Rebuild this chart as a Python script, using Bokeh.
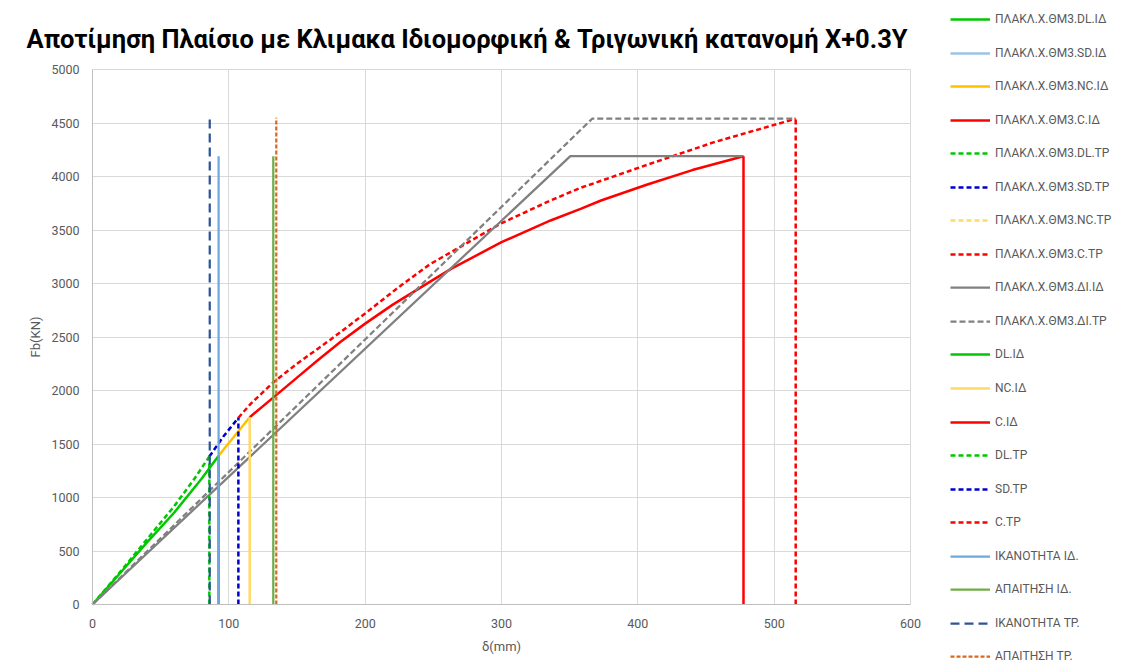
from bokeh.plotting import figure
from bokeh.models import Legend, LegendItem, FixedTicker, Label, BoxAnnotation, Grid
from bokeh.embed import file_html
from bokeh.resources import INLINE

# ---------------- data ----------------
# Modal (ΙΔ) capacity curve, split by performance level
dl_id_x = [0, 20, 40, 60, 80, 92.5]
dl_id_y = [0, 290, 580, 860, 1175, 1390]
sd_id_x = [92.5]
sd_id_y = [1390]
nc_id_x = [92.5, 115.3]
nc_id_y = [1390, 1750]
c_id_x = [115.3, 133, 150, 165, 182, 200, 220, 248, 263, 300, 336, 358, 373, 407, 440, 477.5]
c_id_y = [1750, 1938, 2120, 2280, 2455, 2625, 2800, 3020, 3137, 3386, 3589, 3698, 3776, 3925, 4060, 4190]

# Triangular (ΤΡ) capacity curve
dl_tp_x = [0, 20, 40, 60, 75, 85.7]
dl_tp_y = [0, 300, 610, 920, 1180, 1383]
sd_tp_x = [85.7, 96, 107]
sd_tp_y = [1383, 1570, 1745]
nc_tp_x = [107]
nc_tp_y = [1745]
c_tp_x = [107, 116, 133, 150, 175, 200, 224, 248, 263, 299, 336, 358, 373, 407, 456, 515.8]
c_tp_y = [1745, 1875, 2080, 2250, 2480, 2720, 2960, 3184, 3293, 3557, 3776, 3894, 3960, 4110, 4321, 4540]

# Bilinear idealisations
di_id_x = [0, 350.5, 477.5]
di_id_y = [0, 4190, 4190]
di_tp_x = [0, 366.5, 515.8]
di_tp_y = [0, 4540, 4540]

# Vertical marker lines (x position, top value)
v_dl_id = (92.5, 1390)
v_nc_id = (115.3, 1750)
v_c_id = (477.5, 4190)
v_dl_tp = (85.7, 1383)
v_sd_tp = (107, 1745)
v_c_tp = (515.8, 4540)
v_cap_id = (92.5, 4190)
v_dem_id = (132.6, 4190)
v_cap_tp = (86, 4550)
v_dem_tp = (134.8, 4550)

x_ticks = [0, 100, 200, 300, 400, 500, 600]
y_ticks = [0, 500, 1000, 1500, 2000, 2500, 3000, 3500, 4000, 4500, 5000]
x_lim = (0, 600)
y_lim = (0, 5000)

title_text = "Αποτίμηση Πλαίσιο με Κλιμακα Ιδιομορφική & Τριγωνική κατανομή X+0.3Y"

# ---------------- geometry (pixels) ----------------
W, H = 1118, 664
PX_L, PX_R = 92, 910          # plot area left / right
PX_T, PX_B = 69, 604          # plot area top / bottom
sx = (PX_R - PX_L) / (x_lim[1] - x_lim[0])
sy = (PX_B - PX_T) / (y_lim[1] - y_lim[0])
x_range = (x_lim[0] - PX_L / sx, x_lim[1] + (W - PX_R) / sx)
y_range = (y_lim[0] - (H - PX_B) / sy, y_lim[1] + PX_T / sy)

FONT = "Roboto"
GRAY_TXT = "#595959"

p = figure(frame_width=W, frame_height=H, x_range=x_range, y_range=y_range,
           output_backend="svg", toolbar_location=None,
           min_border=0, min_border_left=0, min_border_right=0,
           min_border_top=0, min_border_bottom=0)
p.outline_line_color = None
p.background_fill_color = "white"
p.border_fill_color = "white"

p.xaxis.fixed_location = 0
p.yaxis.fixed_location = 0
p.xaxis.bounds = x_lim
p.yaxis.bounds = y_lim
p.xaxis.ticker = FixedTicker(ticks=x_ticks)
p.yaxis.ticker = FixedTicker(ticks=y_ticks)
for ax in (p.xaxis[0], p.yaxis[0]):
    ax.axis_line_color = "#BFBFBF"
    ax.axis_line_width = 1
    ax.major_tick_line_color = None
    ax.minor_tick_line_color = None
    ax.major_label_text_font = FONT
    ax.major_label_text_font_size = "12.5px"
    ax.major_label_text_color = GRAY_TXT
    ax.axis_label_text_font = FONT
    ax.axis_label_text_font_size = "13px"
    ax.axis_label_text_color = GRAY_TXT
    ax.axis_label_text_font_style = "normal"
p.xaxis.axis_label = "δ(mm)"
p.yaxis.axis_label = "Fb(KN)"
p.xaxis.major_label_standoff = 8
p.yaxis.major_label_standoff = 7
p.xaxis.axis_label_standoff = 8
p.yaxis.axis_label_standoff = 5

p.xgrid.ticker = FixedTicker(ticks=x_ticks)
p.ygrid.ticker = FixedTicker(ticks=y_ticks)
p.grid.grid_line_color = "#D9D9D9"
p.grid.grid_line_width = 1
if "cross_bounds" in Grid.properties():
    p.xgrid.cross_bounds = y_lim
    p.ygrid.cross_bounds = x_lim
else:
    for kw in (dict(bottom=y_lim[1]), dict(top=y_lim[0]),
               dict(left=x_lim[1] + 0.8), dict(right=x_lim[0])):
        p.add_layout(BoxAnnotation(fill_color="white", fill_alpha=1, line_color=None,
                                   level="underlay", **kw))

LW = 2.5
DASH = "5 3"
entries = []

def add(name, xs, ys, color, dash="solid", width=LW):
    r = p.line(xs, ys, line_color=color, line_width=width, line_dash=dash)
    entries.append((name, r))

def vline(name, v, color, dash="solid", width=LW):
    add(name, [v[0], v[0]], [0, v[1]], color, dash, width)

GREEN = "#00C800"
add("ΠΛΑΚΛ.Χ.ΘΜ3.DL.ΙΔ", dl_id_x, dl_id_y, GREEN)
add("ΠΛΑΚΛ.Χ.ΘΜ3.SD.ΙΔ", sd_id_x, sd_id_y, "#9DC3E6")
add("ΠΛΑΚΛ.Χ.ΘΜ3.NC.ΙΔ", nc_id_x, nc_id_y, "#FFC000")
add("ΠΛΑΚΛ.Χ.ΘΜ3.C.ΙΔ", c_id_x, c_id_y, "#FF0000")
add("ΠΛΑΚΛ.Χ.ΘΜ3.DL.ΤΡ", dl_tp_x, dl_tp_y, GREEN, DASH)
add("ΠΛΑΚΛ.Χ.ΘΜ3.SD.ΤΡ", sd_tp_x, sd_tp_y, "#0000CC", DASH)
add("ΠΛΑΚΛ.Χ.ΘΜ3.NC.ΤΡ", nc_tp_x, nc_tp_y, "#FFD966", DASH)
add("ΠΛΑΚΛ.Χ.ΘΜ3.C.ΤΡ", c_tp_x, c_tp_y, "#FF0000", DASH)
add("ΠΛΑΚΛ.Χ.ΘΜ3.ΔΙ.ΙΔ", di_id_x, di_id_y, "#808080", "solid", 2.25)
add("ΠΛΑΚΛ.Χ.ΘΜ3.ΔΙ.ΤΡ", di_tp_x, di_tp_y, "#808080", "6 3", 2.25)
vline("DL.ΙΔ", v_dl_id, GREEN)
vline("NC.ΙΔ", v_nc_id, "#FFD966")
vline("C.ΙΔ", v_c_id, "#FF0000")
vline("DL.ΤΡ", v_dl_tp, GREEN, DASH)
vline("SD.ΤΡ", v_sd_tp, "#0000CC", DASH)
vline("C.ΤΡ", v_c_tp, "#FF0000", DASH)
vline("ΙΚΑΝΟΤΗΤΑ ΙΔ.", v_cap_id, "#6FA8DC", "solid", 2.25)
vline("ΑΠΑΙΤΗΣΗ ΙΔ.", v_dem_id, "#70AD47", "solid", 2.25)
vline("ΙΚΑΝΟΤΗΤΑ ΤΡ.", v_cap_tp, "#2F5597", "9 5", 2.25)
vline("ΑΠΑΙΤΗΣΗ ΤΡ.", v_dem_tp, "#D86A1F", "4 2", 2.25)

# one single-entry legend per row so that rows sit where the reference has them
for i, (name, r) in enumerate(entries):
    cy = 19 + 33.55 * i          # row centre, px from the top
    lg = Legend(items=[LegendItem(label=name, renderers=[r])],
                location=(950, int(round(H - (cy + 8)))),
                padding=0, margin=0, spacing=0,
                glyph_width=40, glyph_height=16, label_height=16,
                label_standoff=5,
                label_text_font=FONT, label_text_font_size="12px",
                label_text_color=GRAY_TXT,
                background_fill_alpha=0, border_line_color=None)
    p.add_layout(lg, "center")

title = Label(x=26, y=H - 38, x_units="screen", y_units="screen",
              text=title_text, text_font=FONT, text_font_style="bold",
              text_font_size="25.5px", text_color="black",
              text_baseline="middle", text_align="left")
p.add_layout(title)

open("out.html", "w").write(file_html(p, INLINE))
